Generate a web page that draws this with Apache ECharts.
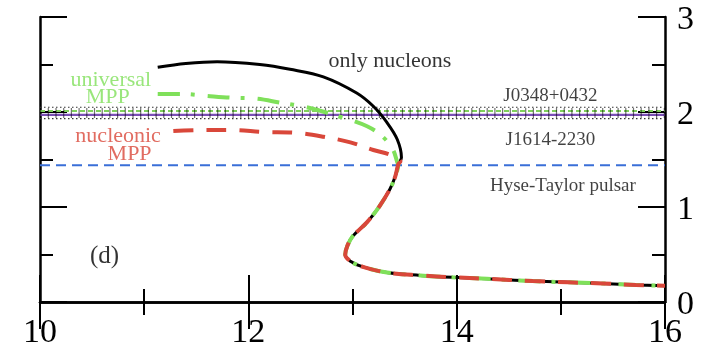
<!DOCTYPE html>
<html>
<head>
<meta charset="utf-8">
<script src="https://cdn.jsdelivr.net/npm/echarts@6/dist/echarts.min.js"></script>
<style>
  html, body { margin: 0; padding: 0; background: #fff; }
  #chart { width: 706px; height: 350px; }
</style>
</head>
<body>
<div id="chart"></div>
<script>
// Mass-radius relation: radius R [km] on x, mass M [solar masses] on y.

// "only nucleons" high-mass branch
const nucleonR = [11.13, 11.40, 11.70, 12.11, 12.40, 12.72, 13.04, 13.20, 13.33, 13.43, 13.47];
const nucleonM = [2.47, 2.51, 2.53, 2.50, 2.45, 2.37, 2.20, 2.06, 1.89, 1.71, 1.52];

// universal MPP high-mass branch
const universalR = [11.13, 11.37, 11.60, 11.85, 12.08, 12.30, 12.56, 12.88, 13.14, 13.29, 13.39, 13.43];
const universalM = [2.19, 2.19, 2.17, 2.15, 2.14, 2.10, 2.05, 1.95, 1.85, 1.74, 1.60, 1.47];

// nucleonic MPP high-mass branch
const nucleonicR = [11.28, 11.54, 11.85, 12.14, 12.47, 12.72, 12.98, 13.20, 13.36, 13.46];
const nucleonicM = [1.80, 1.81, 1.81, 1.79, 1.78, 1.74, 1.68, 1.60, 1.55, 1.48];

// low-mass branch shared by all three models
const sharedR = [13.44, 13.41, 13.36, 13.26, 13.14, 13.00, 12.95, 12.93, 12.98, 13.10, 13.33, 13.65, 13.96, 14.29, 14.73, 15.40, 15.72, 16.00];
const sharedM = [1.45, 1.32, 1.19, 1.01, 0.84, 0.69, 0.59, 0.50, 0.43, 0.37, 0.31, 0.28, 0.26, 0.245, 0.22, 0.195, 0.18, 0.17];

// observed pulsar masses
const pulsarSpanR = [10, 16];
const j0348Mass = 2.01, j0348Err = 0.04;
const j1614Mass = 1.97, j1614Err = 0.04;
const hulseTaylorMass = 1.44;

// axis ticks
const xTicks = [10, 12, 14, 16];
const yTicks = [0, 1, 2, 3];

const SERIF = '"Liberation Serif", "DejaVu Serif", serif';

function pairs(xs, ys) { return xs.map((x, i) => [x, ys[i]]); }
function curve(r, m) { return pairs(r.concat(sharedR), m.concat(sharedM)); }
function hline(mass) { return pulsarSpanR.map(r => [r, mass]); }

function lineSeries(data, color, width, type, z, smooth) {
  return {
    type: 'line', data: data, showSymbol: false, symbol: 'none', silent: true,
    smooth: smooth || false,
    lineStyle: { color: color, width: width, type: type, cap: 'butt' },
    z: z, animation: false
  };
}

// text annotations placed in data coordinates
const notes = [
  { text: 'only nucleons', r: 13.36, m: 2.53, size: 22, color: '#000' },
  { text: 'J0348+0432', r: 14.90, m: 2.17, size: 19, color: '#111' },
  { text: 'J1614-2230', r: 14.90, m: 1.71, size: 19, color: '#111' },
  { text: 'Hyse-Taylor pulsar', r: 15.02, m: 1.22, size: 19, color: '#111' },
  { text: 'universal', r: 10.68, m: 2.33, size: 22, color: '#7fe05a' },
  { text: 'MPP', r: 10.65, m: 2.16, size: 22, color: '#7fe05a' },
  { text: 'nucleonic', r: 10.75, m: 1.74, size: 22, color: '#d9473a' },
  { text: 'MPP', r: 10.86, m: 1.56, size: 22, color: '#d9473a' },
  { text: '(d)', r: 10.62, m: 0.48, size: 25, color: '#000' }
];

const axisLine = { show: true, lineStyle: { color: '#000', width: 2.5 } };
const tick = { show: true, inside: true, length: 27, lineStyle: { color: '#000', width: 2 } };
const minor = { show: true, splitNumber: 2, length: 13, lineStyle: { color: '#000', width: 2 } };

const chart = echarts.init(document.getElementById('chart'), null, { renderer: 'canvas' });

chart.setOption({
  backgroundColor: '#fff',
  animation: false,
  grid: { left: 40, right: 41, top: 17, bottom: 47, containLabel: false },
  xAxis: [
    {
      type: 'value', position: 'bottom', min: xTicks[0], max: xTicks[xTicks.length - 1], interval: 2,
      axisLine: axisLine, axisTick: tick, minorTick: minor, splitLine: { show: false },
      axisLabel: { show: true, margin: 14, color: '#000', fontFamily: SERIF, fontSize: 34,
        formatter: v => xTicks.includes(v) ? String(v) : '' }
    },
    {
      type: 'value', position: 'top', min: xTicks[0], max: xTicks[xTicks.length - 1], interval: 2,
      axisLine: axisLine, axisTick: tick, minorTick: minor, splitLine: { show: false },
      axisLabel: { show: false }
    }
  ],
  yAxis: [
    {
      type: 'value', position: 'left', min: yTicks[0], max: yTicks[yTicks.length - 1], interval: 1,
      axisLine: axisLine, axisTick: tick, minorTick: minor, splitLine: { show: false },
      axisLabel: { show: false }
    },
    {
      type: 'value', position: 'right', min: yTicks[0], max: yTicks[yTicks.length - 1], interval: 1,
      axisLine: axisLine, axisTick: tick, minorTick: minor, splitLine: { show: false },
      axisLabel: { show: true, margin: 12, color: '#000',
        formatter: v => yTicks.includes(v) ? '{n|' + v + '}' : '',
        rich: { n: { fontFamily: SERIF, fontSize: 34, color: '#000', padding: [7, 0, 0, 0] } } }
    }
  ],
  series: [
    // Hulse-Taylor pulsar mass
    lineSeries(hline(hulseTaylorMass), '#3a6fd8', 2, [10, 6], 2),
    // J0348+0432 / J1614-2230 hatched error bands
    lineSeries(hline(j0348Mass + j0348Err), '#333', 1.2, [1.5, 2.5], 3),
    lineSeries(hline(j0348Mass), '#7fd05a', 2, [5, 3], 3),
    lineSeries(hline(j1614Mass), '#7a4fb5', 2.2, 'solid', 3),
    lineSeries(hline(j1614Mass - j1614Err), '#333', 1.2, [1.5, 2.5], 3),
    lineSeries(hline((j0348Mass + j1614Mass) / 2), 'rgba(0,0,0,0.55)', 10, [1.2, 6.5], 4),
    // model curves
    lineSeries(curve(nucleonR, nucleonM), '#000', 3, 'solid', 5, 0.35),
    lineSeries(curve(universalR, universalM), '#7fe05a', 4, [22, 11, 4, 13], 6, 0.35),
    lineSeries(curve(nucleonicR, nucleonicM), '#d9473a', 4, [20, 13], 7, 0.35),
    // annotations
    {
      type: 'scatter', symbolSize: 0, silent: true, z: 10, animation: false,
      data: notes.map(n => ({
        value: [n.r, n.m],
        label: { show: true, position: 'inside', formatter: n.text, color: n.color,
          fontFamily: SERIF, fontSize: n.size }
      }))
    }
  ]
});
</script>
</body>
</html>
